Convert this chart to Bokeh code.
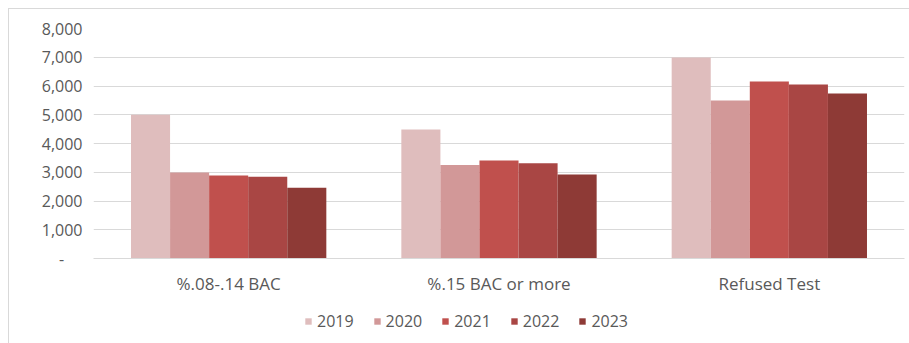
from bokeh.plotting import figure
from bokeh.layouts import column
from bokeh.models import ColumnDataSource, FixedTicker, NumeralTickFormatter, Legend, LegendItem
from bokeh.transform import dodge
from bokeh.embed import file_html
from bokeh.resources import INLINE

categories = ["%.08-.14 BAC", "%.15 BAC or more", "Refused Test"]
years = ["2019", "2020", "2021", "2022", "2023"]
v2019 = [5000, 4490, 6990]
v2020 = [2990, 3250, 5500]
v2021 = [2890, 3410, 6160]
v2022 = [2840, 3310, 6050]
v2023 = [2460, 2925, 5740]
y_ticks = [0, 1000, 2000, 3000, 4000, 5000, 6000, 7000, 8000]

colors = ["#dfbdbd", "#d29898", "#c0504d", "#a94644", "#8e3a36"]
series = [v2019, v2020, v2021, v2022, v2023]

FONT = "Open Sans"
GRAY = "#595959"

src = ColumnDataSource(dict(cat=categories, **{y: s for y, s in zip(years, series)}))

p = figure(x_range=categories, y_range=(0, 8000), width=900, height=291,
           output_backend="svg", toolbar_location=None,
           min_border_left=84, min_border_right=5, min_border_top=19, min_border_bottom=42)
p.outline_line_color = None
p.background_fill_color = "white"
p.border_fill_color = "white"

bw = 0.1445
for i, (y, c) in enumerate(zip(years, colors)):
    p.vbar(x=dodge("cat", (i - 2) * bw, range=p.x_range), top=y, width=bw,
           source=src, fill_color=c, line_color=None)

p.yaxis.ticker = FixedTicker(ticks=y_ticks)
p.yaxis.formatter = NumeralTickFormatter(format="0,0")
p.yaxis.major_label_overrides = {0: "-\u2007\u2007"}
p.yaxis.axis_line_color = None
p.yaxis.major_tick_line_color = None
p.yaxis.minor_tick_line_color = None
p.yaxis.major_label_text_font = FONT
p.yaxis.major_label_text_font_size = "16px"
p.yaxis.major_label_text_color = GRAY
p.yaxis.major_label_standoff = 5

p.xaxis.axis_line_color = "#d9d9d9"
p.xaxis.major_tick_line_color = None
p.xaxis.minor_tick_line_color = None
p.xaxis.major_label_text_font = FONT
p.xaxis.major_label_text_font_size = "17px"
p.xaxis.major_label_text_color = GRAY
p.xaxis.major_label_standoff = 7

p.xgrid.grid_line_color = None
p.ygrid.grid_line_color = "#d9d9d9"
p.ygrid.grid_line_width = 1

# legend-only strip below the chart (renderers hidden, only their legend swatches show)
leg = figure(width=900, height=43, x_range=categories, y_range=(0, 8000),
             output_backend="svg", toolbar_location=None,
             x_axis_type=None, y_axis_type=None,
             min_border_left=0, min_border_right=0, min_border_top=0, min_border_bottom=0)
leg.outline_line_color = None
leg.xgrid.grid_line_color = None
leg.ygrid.grid_line_color = None
leg.background_fill_color = "white"
leg.border_fill_color = "white"
items = []
for i, (y, c) in enumerate(zip(years, colors)):
    r = leg.vbar(x=dodge("cat", (i - 2) * bw, range=leg.x_range), top=y, width=bw,
                 source=src, fill_color=c, line_color=None, visible=False)
    items.append(LegendItem(label=y, renderers=[r], index=0))

legend = Legend(items=items, orientation="horizontal", location=(211, 11),
                label_text_font=FONT, label_text_font_size="16px", label_text_color=GRAY,
                glyph_width=8, glyph_height=8, label_standoff=5, spacing=19,
                border_line_color=None, background_fill_alpha=0, padding=2, margin=0)
leg.add_layout(legend, "center")

layout = column(p, leg, spacing=0, margin=(8, 0, 0, 8),
                styles={"border-top": "1px solid #d9d9d9", "border-left": "1px solid #d9d9d9"})

open("out.html", "w").write(file_html(layout, INLINE))
